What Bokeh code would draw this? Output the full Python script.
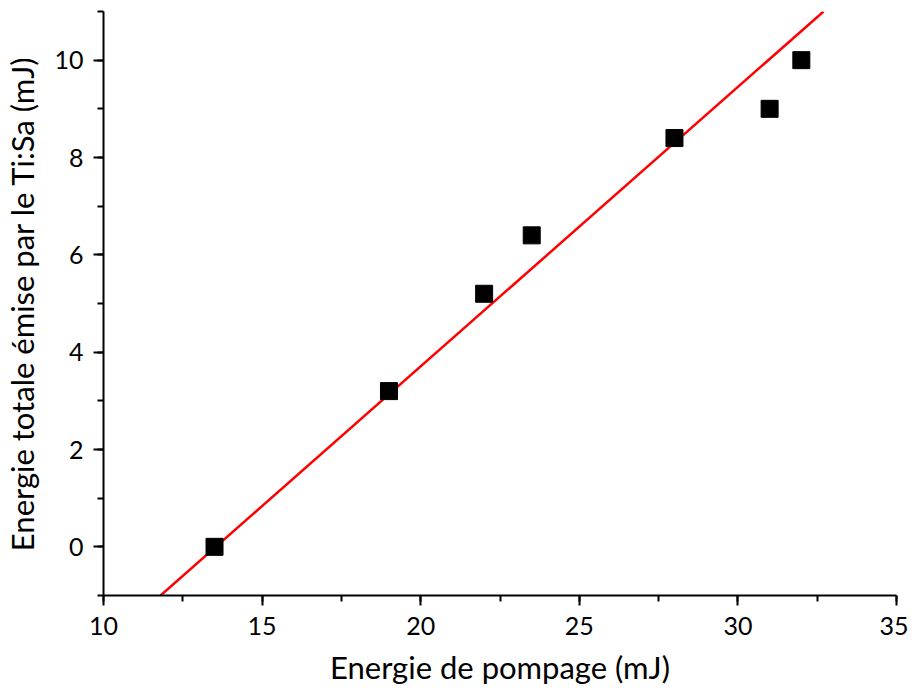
from bokeh.plotting import figure
from bokeh.models import Range1d, SingleIntervalTicker
from bokeh.embed import file_html
from bokeh.resources import INLINE

# data
pump_energy = [13.5, 19.0, 22.0, 23.5, 28.0, 31.0, 32.0]
emitted_energy = [0.0, 3.2, 5.2, 6.4, 8.4, 9.0, 10.0]
fit_x = [11.8, 32.7]
fit_y = [-1.0, 11.0]

FONT = "Lato"

p = figure(frame_width=793, frame_height=584, output_backend="svg", toolbar_location=None,
           x_range=Range1d(10, 35), y_range=Range1d(-1, 11),
           min_border_left=103, min_border_right=12, min_border_top=11, min_border_bottom=80)
p.outline_line_color = None
p.xgrid.visible = False
p.ygrid.visible = False

p.line(fit_x, fit_y, line_color="#ff0000", line_width=2.5)
p.scatter(pump_energy, emitted_energy, marker="square", size=17, fill_color="black", line_color="black")

p.xaxis.ticker = SingleIntervalTicker(interval=5, num_minor_ticks=2)
p.yaxis.ticker = SingleIntervalTicker(interval=2, num_minor_ticks=2)
for ax in (p.xaxis[0], p.yaxis[0]):
    ax.axis_line_width = 2
    ax.axis_line_color = "black"
    ax.major_tick_line_width = 2
    ax.minor_tick_line_width = 2
    ax.major_tick_in = 0
    ax.major_tick_out = 10
    ax.minor_tick_in = 0
    ax.minor_tick_out = 6
    ax.major_label_text_font = FONT
    ax.major_label_text_font_size = "25px"
    ax.major_label_text_color = "black"
    ax.axis_label_text_font = FONT
    ax.axis_label_text_font_size = "31px"
    ax.axis_label_text_font_style = "normal"
    ax.axis_label_text_color = "black"

p.xaxis.axis_label = "Energie de pompage (mJ)"
p.yaxis.axis_label = "Energie totale émise par le Ti:Sa (mJ)"
p.xaxis.major_label_standoff = 11
p.yaxis.major_label_standoff = 10
p.xaxis.axis_label_standoff = 10
p.yaxis.axis_label_standoff = 10

open("out.html", "w").write(file_html(p, INLINE))
